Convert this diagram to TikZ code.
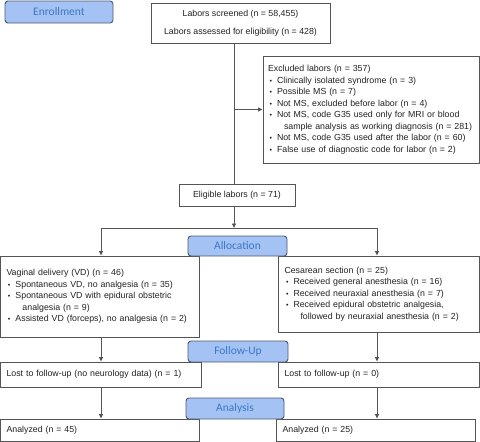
\documentclass[tikz,border=0pt]{standalone}
\usepackage{fontspec}
\setmainfont{Liberation Sans}
\newfontfamily\labelfont{Carlito}
\usepackage{tikz}
\usetikzlibrary{arrows.meta}

\definecolor{labelfill}{HTML}{A4C2F4}
\definecolor{labeledge}{HTML}{4D5B70}
\definecolor{labeltext}{HTML}{3C78C3}
\definecolor{boxedge}{HTML}{555555}
\definecolor{boxtext}{HTML}{222222}

\newcommand{\bul}{\makebox[9pt][l]{\hspace{1.5pt}\fontsize{7}{7}\selectfont\textbullet}}
\newcommand{\cont}{\hspace{16pt}}

\begin{document}
\begin{tikzpicture}[x=1pt, y=-1pt]
    \tikzstyle{stage} = [rectangle, rounded corners=3pt, draw=labeledge, line width=0.9pt, fill=labelfill, text=labeltext, font=\labelfont\fontsize{11.5}{12}\selectfont, inner sep=0pt]
    \tikzstyle{flowbox} = [rectangle, draw=boxedge, line width=0.9pt, fill=white, text=boxtext, font=\fontsize{8.8}{11.5}\selectfont, inner sep=0pt]
    \tikzstyle{listbox} = [flowbox, align=left, inner xsep=6.5pt]
    \tikzstyle{line} = [draw=boxedge, line width=0.9pt]
    \tikzstyle{arrow} = [line, -{Triangle[width=4pt,length=4.5pt]}]

    \useasboundingbox (0,0) rectangle (480,442);

    % Enrollment
    \node[stage, minimum width=108, minimum height=22] (enroll) at (59,12) {Enrollment};
    \node[flowbox, align=center, minimum width=179, minimum height=40] (screened) at (240.5,23)
        {Labors screened (n = 58,455)\\[6.5pt]Labors assessed for eligibility (n = 428)};
    \node[listbox, inner xsep=5pt, text width=206, minimum height=107] (excl) at (371,109.5)
        {Excluded labors (n = 357)\\
         \bul Clinically isolated syndrome (n = 3)\\
         \bul Possible MS (n = 7)\\
         \bul Not MS, excluded before labor (n = 4)\\
         \bul Not MS, code G35 used only for MRI or blood\\
         \mbox{\cont sample analysis as working diagnosis (n = 281)}\\
         \bul Not MS, code G35 used after the labor (n = 60)\\
         \bul False use of diagnostic code for labor (n = 2)};
    \node[flowbox, minimum width=116, minimum height=22] (elig) at (237,195) {Eligible labors (n = 71)};

    % Allocation
    \node[listbox, text width=186, minimum height=81] (vd) at (99.5,296.5)
        {Vaginal delivery (VD) (n = 46)\\
         \bul Spontaneous VD, no analgesia (n = 35)\\
         \bul Spontaneous VD with epidural obstetric\\
         \cont analgesia (n = 9)\\
         \bul Assisted VD (forceps), no analgesia (n = 2)};
    \node[listbox, text width=188, minimum height=76] (cs) at (378.5,294)
        {Cesarean section (n = 25)\\
         \bul Received general anesthesia (n = 16)\\
         \bul Received neuraxial anesthesia (n = 7)\\
         \bul Received epidural obstetric analgesia,\\
         \cont followed by neuraxial anesthesia (n = 2)};
    \node[stage, minimum width=99, minimum height=20] (alloc) at (237.5,246) {Allocation};

    % Follow-up
    \node[listbox, text width=188, minimum height=25] (lostvd) at (100.5,374.5) {Lost to follow-up (no neurology data) (n = 1)};
    \node[listbox, text width=188, minimum height=25] (lostcs) at (378.5,374.5) {Lost to follow-up (n = 0)};
    \node[stage, minimum width=100, minimum height=21] (follow) at (238,351.5) {Follow-Up};

    % Analysis
    \node[listbox, text width=186, minimum height=22] (anvd) at (99.5,430) {Analyzed (n = 45)};
    \node[listbox, text width=186, minimum height=22] (ancs) at (375.5,430) {Analyzed (n = 25)};
    \node[stage, minimum width=98, minimum height=21] (analysis) at (235,408.5) {Analysis};

    % Connectors
    \coordinate (trunk) at (234,0);
    \coordinate (lcol) at (101,228);
    \coordinate (rcol) at (377,228);
    \draw[line] (screened.south -| trunk) -- (elig.north -| trunk);
    \draw[arrow] (trunk |- excl.west) -- (excl.west);
    \draw[arrow] (elig.south -| trunk) -- (trunk |- lcol);
    \draw[line] (lcol) -- (rcol);
    \draw[arrow] (lcol) -- (vd.north -| lcol);
    \draw[arrow] (rcol) -- (cs.north -| rcol);
    \draw[arrow] (vd.south -| lcol) -- (lostvd.north -| lcol);
    \draw[arrow] (cs.south -| rcol) -- (lostcs.north -| rcol);
    \draw[arrow] (lostvd.south -| lcol) -- (anvd.north -| lcol);
    \draw[arrow] (lostcs.south -| rcol) -- (ancs.north -| rcol);

\end{tikzpicture}
\end{document}
